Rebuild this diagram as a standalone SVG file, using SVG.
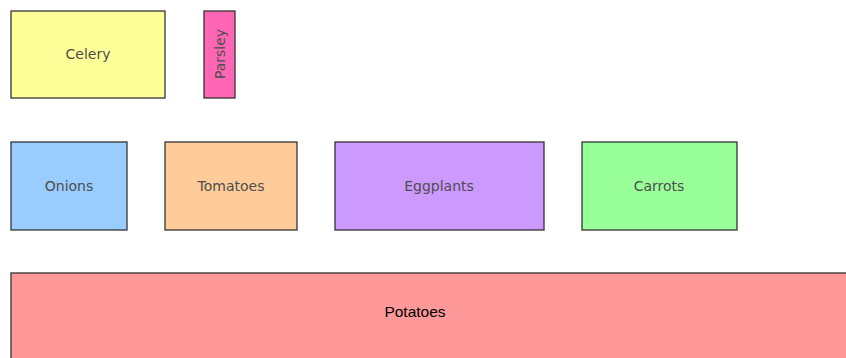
<svg xmlns="http://www.w3.org/2000/svg" width="846" height="358" viewBox="0 0 846 358">
<style>
rect{stroke:#333;stroke-width:1.3}
.l{font-family:"DejaVu Sans",sans-serif;font-size:14px;fill:#4d4d4d;text-anchor:middle;dominant-baseline:central}
.p{font-family:"Liberation Sans",Arial,sans-serif;font-size:15.5px;fill:#000;text-anchor:middle;dominant-baseline:central}
</style>
<rect width="846" height="358" fill="#fff" style="stroke:none"/>
<g id="celery"><rect x="11" y="11" width="154" height="87" fill="#ffff99"/><text class="l" x="88" y="54">Celery</text></g>
<g id="parsley"><rect x="204" y="11" width="31" height="87" fill="#ff66b3"/><text class="l" transform="translate(220,54) rotate(-90)">Parsley</text></g>
<g id="onions"><rect x="11" y="142" width="116" height="88" fill="#99ccff"/><text class="l" x="69" y="186">Onions</text></g>
<g id="tomatoes"><rect x="165" y="142" width="132" height="88" fill="#ffcc99"/><text class="l" x="231" y="186">Tomatoes</text></g>
<g id="eggplants"><rect x="335" y="142" width="209" height="88" fill="#cc99ff"/><text class="l" x="439" y="186">Eggplants</text></g>
<g id="carrots"><rect x="582" y="142" width="155" height="88" fill="#99ff99"/><text class="l" x="659" y="186">Carrots</text></g>
<g id="potatoes"><rect x="11" y="273" width="850" height="100" fill="#ff9999"/><text class="p" x="415" y="311">Potatoes</text></g>
<g id="connectors"></g>
</svg>
